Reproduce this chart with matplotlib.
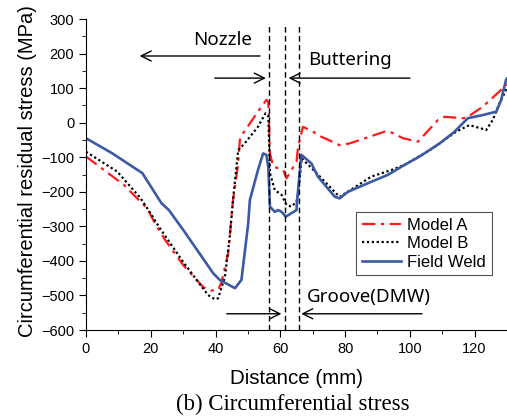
import matplotlib
matplotlib.use("Agg")
import matplotlib.pyplot as plt
from matplotlib.ticker import MultipleLocator

# Data
model_a_x = [0, 11.7, 15.8, 18.9, 21, 24.4, 30, 36.2, 38.7, 40.8, 41.8, 43.9, 45.4, 47, 47.5,
             48.5, 53.1, 55.7, 56.3, 56.8, 57.8, 60.9, 61.9, 65, 65.5, 67, 70.1, 71.6, 78.3,
             81.4, 92.2, 93.8, 97.9, 102.5, 108.7, 110.7, 116.4, 117.4, 122.5, 128.2, 130]
model_a_y = [-98, -180, -219, -248, -286, -339, -412, -476, -486, -484, -463, -378, -224, -118, -50,
             -31, 32, 66, 60, -89, -127, -137, -161, -113, -69, -12, -26, -36, -65,
             -60, -26, -26, -45, -55, 8, 17, 13, 14, 46, 95, 112]

model_b_x = [0, 9.7, 16.9, 19.9, 22.5, 30, 37.7, 39.8, 40.8, 42.9, 44.4, 45.4, 47, 49, 53.1,
             55.4, 56.3, 56.8, 58.3, 60.4, 61.9, 63.4, 65, 65.6, 66.6, 71.6, 78.3, 80, 88.1,
             94.3, 98.4, 107.1, 114.3, 118.4, 123.6, 125.6, 127.7, 129.7, 130]
model_b_y = [-84, -142, -219, -262, -301, -403, -499, -511, -508, -446, -330, -224, -79, -60, -12,
             27, 20, -146, -195, -209, -238, -243, -229, -200, -103, -150, -215, -205, -156,
             -137, -122, -74, -26, -7, -21, 8, 56, 95, 100]

weld_x = [0, 8, 17.4, 23.3, 25.6, 30, 39.3, 41.3, 46, 48, 50.1, 50.6, 53.1, 54.7, 55.7, 56.3,
          56.8, 58.3, 59.3, 60.4, 61.7, 63.4, 65, 65.2, 66.5, 69.6, 71.6, 76.8, 78.3, 80.9,
          87.1, 93.2, 98.4, 103, 109.2, 113.8, 117.9, 122.5, 126.7, 128.2, 129.7, 130]
weld_y = [-45, -88, -146, -233, -253, -310, -436, -455, -479, -455, -291, -224, -137, -89, -93, -130,
          -243, -258, -253, -258, -272, -262, -253, -224, -93, -118, -156, -214, -219, -200,
          -175, -151, -122, -98, -60, -26, 13, 22, 32, 66, 124, 128]

zone_lines = [56.4, 61.6, 65.7]

plt.rcParams['font.family'] = ['Liberation Sans', 'DejaVu Sans']

fig = plt.figure(figsize=(5.07, 4.17), dpi=100)
ax = fig.add_axes([0.1696, 0.2086, 0.8304, 0.7458])

ax.plot(model_a_x, model_a_y, color="#ff1a1a", linestyle=(0, (6, 2.5, 1.5, 2.5)), lw=1.6, label="Model A")
ax.plot(model_b_x, model_b_y, color="black", linestyle=(0, (1, 1.2)), lw=1.6, label="Model B")
ax.plot(weld_x, weld_y, color="#3b5aa6", linestyle="-", lw=1.9, label="Field Weld")

for xv in zone_lines:
    ax.plot([xv, xv], [-600, 288], color="black", linestyle=(0, (4, 2.5)), lw=1.0)

# Zone arrows
arr = dict(arrowstyle="->", color="black", lw=1.0, mutation_scale=18)
ax.annotate("", xy=(15.7, 193), xytext=(54.6, 193), arrowprops=arr)
ax.annotate("", xy=(56.4, 129), xytext=(38.9, 129), arrowprops=arr)
ax.annotate("", xy=(61.7, 129), xytext=(100.9, 129), arrowprops=arr)
ax.annotate("", xy=(61.2, -553), xytext=(42.6, -553), arrowprops=arr)
ax.annotate("", xy=(65.6, -553), xytext=(104.6, -553), arrowprops=arr)

zone_font = ['Noto Sans', 'DejaVu Sans']
ax.text(42.2, 239, "Nozzle", fontsize=13.5, ha="center", va="center", family=zone_font)
ax.text(81.5, 181, "Buttering", fontsize=13.5, ha="center", va="center", family=zone_font)
ax.text(87.3, -504, "Groove(DMW)", fontsize=13.5, ha="center", va="center", family=zone_font)

ax.set_xlim(0, 130)
ax.set_ylim(-600, 300)
ax.xaxis.set_major_locator(MultipleLocator(20))
ax.xaxis.set_minor_locator(MultipleLocator(10))
ax.yaxis.set_major_locator(MultipleLocator(100))
ax.yaxis.set_minor_locator(MultipleLocator(50))
ax.tick_params(which="major", direction="out", length=5, labelsize=10.5)
ax.tick_params(which="minor", direction="out", length=3)
ax.spines["top"].set_visible(False)
ax.spines["right"].set_visible(False)

ax.set_xlabel("Distance (mm)", fontsize=14.8)
ax.xaxis.set_label_coords(0.5, -0.125)
ax.set_ylabel("Circumferential residual stress (MPa)", fontsize=14.5,
              family=['Liberation Sans Narrow', 'Liberation Sans'])
ax.yaxis.set_label_coords(-0.116, 0.511)

leg = ax.legend(loc="upper right", bbox_to_anchor=(0.964, 0.379), borderaxespad=0,
                fontsize=12, handlelength=2.3, fancybox=False, edgecolor="#555555",
                framealpha=1, borderpad=0.35, labelspacing=0.2, handletextpad=0.4)
leg.get_frame().set_linewidth(0.8)

fig.text(0.577, 1 - 404 / 417, "(b) Circumferential stress", fontsize=16.5,
         ha="center", va="center", family=['Liberation Serif', 'DejaVu Serif'])

fig.savefig("out.png", dpi=100)
